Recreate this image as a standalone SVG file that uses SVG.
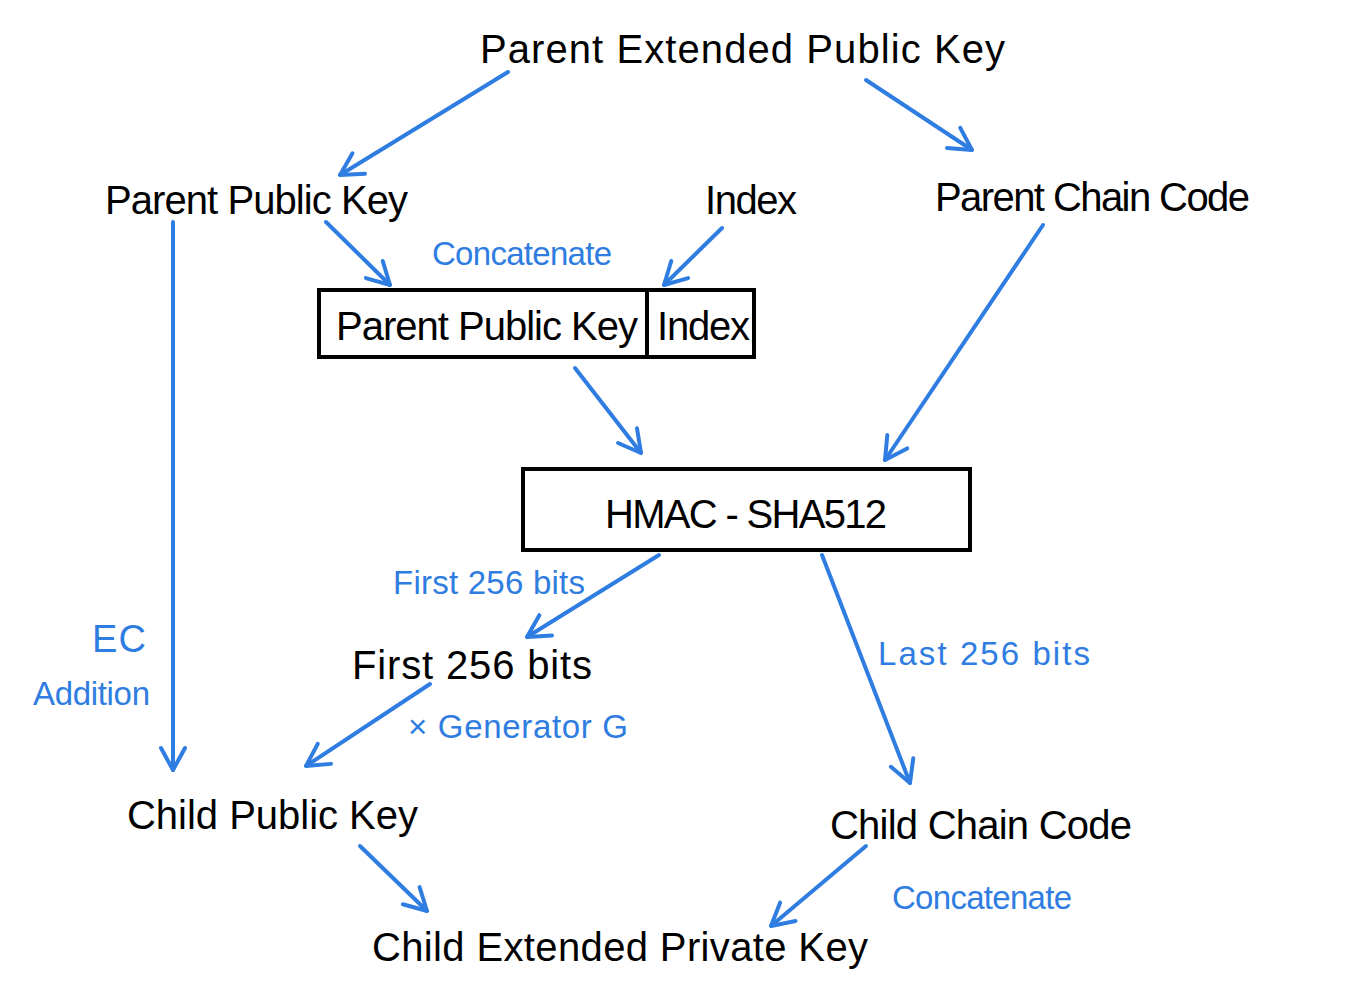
<svg xmlns="http://www.w3.org/2000/svg" width="1355" height="1000" viewBox="0 0 1355 1000">
<style>
.t{font-family:"Liberation Sans",Arial,sans-serif;fill:#000;font-size:40px}
.b{font-family:"Liberation Sans",Arial,sans-serif;fill:#2f7de1;font-size:33px}
.box{fill:#fff;stroke:#000;stroke-width:4}
.c{stroke:#2f7de1;stroke-width:4;fill:none;stroke-linecap:round;marker-end:url(#ah)}
</style>
<defs>
<marker id="ah" viewBox="-30 -15 32 30" refX="0" refY="0" markerWidth="32" markerHeight="30" markerUnits="userSpaceOnUse" orient="auto">
<path d="M-22,-12 L0,0 L-22,12" fill="none" stroke="#2f7de1" stroke-width="4" stroke-linecap="round" stroke-linejoin="round"/>
</marker>
</defs>
<rect width="1355" height="1000" fill="#fff"/>
<g id="connectors">
<line class="c" x1="508" y1="72" x2="340" y2="175"/>
<line class="c" x1="866" y1="80" x2="972" y2="150"/>
<line class="c" x1="326" y1="222" x2="390" y2="285"/>
<line class="c" x1="722" y1="228" x2="664" y2="285"/>
<line class="c" x1="173" y1="222" x2="173" y2="770"/>
<line class="c" x1="1043" y1="225" x2="885" y2="460"/>
<line class="c" x1="575" y1="368" x2="641" y2="453"/>
<line class="c" x1="659" y1="555" x2="527" y2="637"/>
<line class="c" x1="822" y1="555" x2="910" y2="783"/>
<line class="c" x1="430" y1="684" x2="306" y2="766"/>
<line class="c" x1="360" y1="846" x2="427" y2="911"/>
<line class="c" x1="866" y1="846" x2="771" y2="926"/>
</g>
<g id="parent-extended-public-key"><text class="t" x="480" y="63" textLength="525">Parent Extended Public Key</text></g>
<g id="parent-public-key"><text class="t" x="105" y="214" textLength="303">Parent Public Key</text></g>
<g id="index"><text class="t" x="705" y="214" textLength="92">Index</text></g>
<g id="parent-chain-code"><text class="t" x="935" y="211" textLength="315">Parent Chain Code</text></g>
<g id="label-concatenate-1"><text class="b" x="432" y="265" textLength="180">Concatenate</text></g>
<g id="concat-box">
<rect class="box" x="319" y="290" width="435" height="67"/>
<line x1="647" y1="290" x2="647" y2="357" stroke="#000" stroke-width="4"/>
<text class="t" x="336" y="340" textLength="302">Parent Public Key</text>
<text class="t" x="657" y="340" textLength="93">Index</text>
</g>
<g id="hmac-sha512">
<rect class="box" x="523" y="469" width="447" height="81"/>
<text class="t" x="605" y="528" textLength="282">HMAC - SHA512</text>
</g>
<g id="label-first-256"><text class="b" x="393" y="594" textLength="192">First 256 bits</text></g>
<g id="first-256-bits"><text class="t" x="352" y="679" textLength="240">First 256 bits</text></g>
<g id="label-last-256"><text class="b" x="878" y="665" textLength="212">Last 256 bits</text></g>
<g id="label-ec-addition">
<text class="b" x="92" y="652" textLength="54" style="font-size:38px">EC</text>
<text class="b" x="33" y="705" textLength="117">Addition</text>
</g>
<g id="label-generator"><text class="b" x="408" y="738" textLength="220">× Generator G</text></g>
<g id="child-public-key"><text class="t" x="127" y="829" textLength="291">Child Public Key</text></g>
<g id="child-chain-code"><text class="t" x="830" y="839" textLength="302">Child Chain Code</text></g>
<g id="label-concatenate-2"><text class="b" x="892" y="909" textLength="180">Concatenate</text></g>
<g id="child-extended-private-key"><text class="t" x="372" y="961" textLength="496">Child Extended Private Key</text></g>
</svg>
